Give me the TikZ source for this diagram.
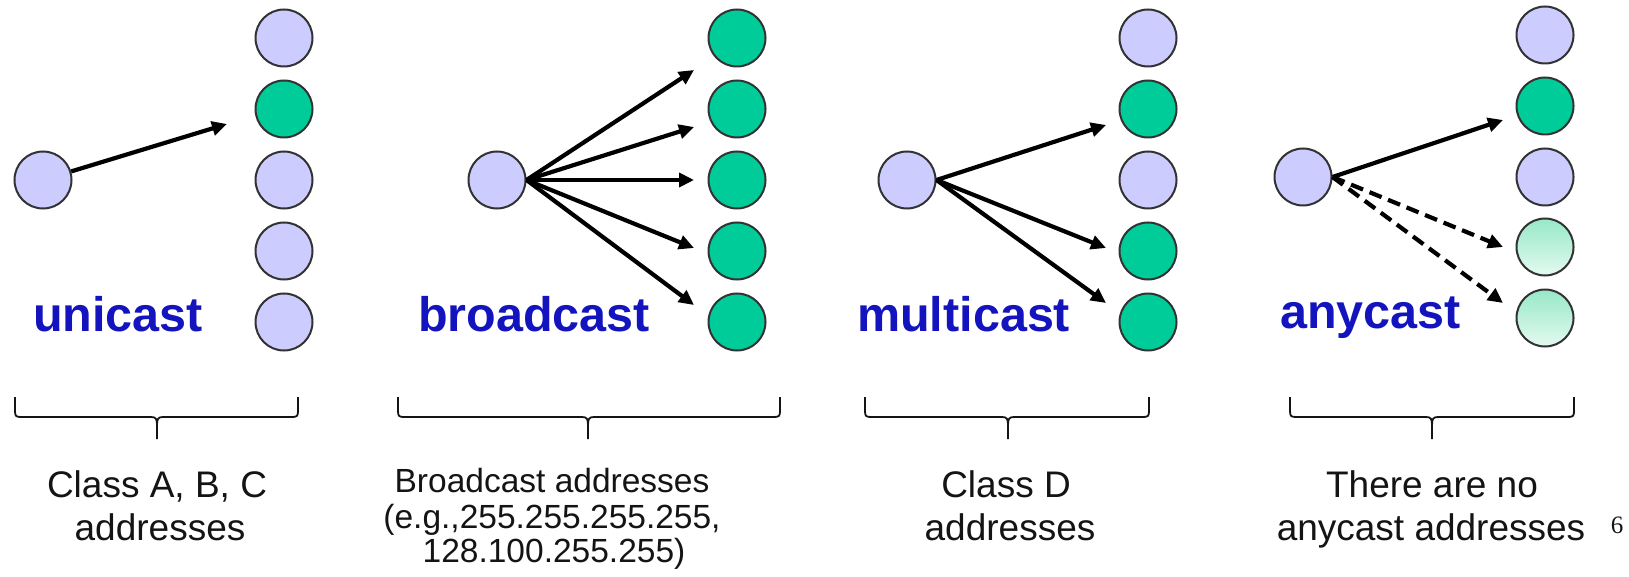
\documentclass[tikz,border=0pt]{standalone}
\usepackage{fontspec}
\setmainfont{Liberation Sans}
\newfontfamily\serifnum{Liberation Serif}
\usetikzlibrary{arrows.meta}
\definecolor{lav}{RGB}{204,204,255}
\definecolor{grn}{RGB}{0,204,153}
\definecolor{lgtop}{RGB}{150,232,200}
\definecolor{lgbot}{RGB}{228,250,240}
\definecolor{ttlblue}{RGB}{20,20,190}
\definecolor{edge}{RGB}{50,50,50}
\definecolor{txt}{RGB}{20,20,20}
\tikzset{
  host/.style={circle, draw=edge, line width=2pt, minimum size=57pt, inner sep=0pt},
  idle/.style={host, fill=lav},
  hit/.style={host, fill=grn},
  maybe/.style={host, top color=lgtop, bottom color=lgbot},
  send/.style={line width=4.2pt, -{Triangle[length=15pt,width=14pt]}},
  maysend/.style={send, dash pattern=on 13pt off 7pt},
  ttl/.style={anchor=base west, text=ttlblue, font=\fontsize{48.5}{50}\selectfont\bfseries, inner sep=0pt},
  captxt/.style={anchor=base, text=txt, font=\fontsize{37}{40}\selectfont, inner sep=0pt},
  captxtsm/.style={anchor=base, text=txt, font=\fontsize{33.5}{36}\selectfont, inner sep=0pt},
  brc/.style={draw=txt, line width=1.8pt}
}
\begin{document}
\begin{tikzpicture}[x=1pt,y=-1pt]
\useasboundingbox (0,0) rectangle (1629,577);
% ---------- unicast ----------
\node[idle] (u0) at (43,180) {};
\node[idle] (u1) at (284,38) {};
\node[hit]  (u2) at (284,109) {};
\node[idle] (u3) at (284,180) {};
\node[idle] (u4) at (284,251) {};
\node[idle] (u5) at (284,322) {};
\coordinate (ut) at (227,124);
\draw[send] (u0) -- (ut);
\node[ttl] (ul) at (33,331) {unicast};
% ---------- broadcast ----------
\node[idle] (b0) at (497,180) {};
\node[hit] (b1) at (737,38) {};
\node[hit] (b2) at (737,109) {};
\node[hit] (b3) at (737,180) {};
\node[hit] (b4) at (737,251) {};
\node[hit] (b5) at (737,322) {};
\coordinate (bt1) at (694,70);
\coordinate (bt2) at (694,127);
\coordinate (bt3) at (694,180);
\coordinate (bt4) at (694,248);
\coordinate (bt5) at (694,305);
\foreach \i in {1,...,5} \draw[send] (b0.east) -- (bt\i);
\node[ttl] (bl) at (418,331) {broadcast};
% ---------- multicast ----------
\node[idle] (m0) at (907,180) {};
\node[idle] (m1) at (1148,38) {};
\node[hit]  (m2) at (1148,109) {};
\node[idle] (m3) at (1148,180) {};
\node[hit]  (m4) at (1148,251) {};
\node[hit]  (m5) at (1148,322) {};
\coordinate (mt1) at (1106,125);
\coordinate (mt2) at (1106,248);
\coordinate (mt3) at (1106,303);
\foreach \i in {1,2,3} \draw[send] (m0.east) -- (mt\i);
\node[ttl] (ml) at (857,331) {multicast};
% ---------- anycast ----------
\node[idle]  (a0) at (1303,177) {};
\node[idle]  (a1) at (1545,35) {};
\node[hit]   (a2) at (1545,106) {};
\node[idle]  (a3) at (1545,177) {};
\node[maybe] (a4) at (1545,247) {};
\node[maybe] (a5) at (1545,318) {};
\coordinate (at1) at (1503,120);
\coordinate (at2) at (1503,247);
\coordinate (at3) at (1503,303);
\draw[send] (a0.east) -- (at1);
\draw[maysend] (a0.east) -- (at2);
\draw[maysend] (a0.east) -- (at3);
\node[ttl] (al) at (1280,328) {anycast};
% ---------- braces ----------
\foreach \xa/\xm/\xb in {15/157/298, 398/588/780, 865/1008/1149, 1290/1432/1574}{
  \draw[brc] (\xa,397) -- (\xa,411) .. controls (\xa,416) and (\xa+1,417) .. (\xa+6,417)
    -- (\xm-6,417) .. controls (\xm-1,417) and (\xm,419) .. (\xm,425) -- (\xm,439);
  \draw[brc] (\xb,397) -- (\xb,411) .. controls (\xb,416) and (\xb-1,417) .. (\xb-6,417)
    -- (\xm+6,417) .. controls (\xm+1,417) and (\xm,419) .. (\xm,425);
}
% ---------- captions ----------
\node[captxt] (c1a) at (157,497) {Class A, B, C};
\node[captxt] (c1b) at (160,540) {addresses};
\node[captxtsm] (c2a) at (552,492) {Broadcast addresses};
\node[captxtsm] (c2b) at (552,528) {(e.g.,255.255.255.255,};
\node[captxtsm] (c2c) at (554,562) {128.100.255.255)};
\node[captxt] (c3a) at (1006,497) {Class D};
\node[captxt] (c3b) at (1010,540) {addresses};
\node[captxt] (c4a) at (1432,497) {There are no};
\node[captxt] (c4b) at (1431,540) {anycast addresses};
\node[anchor=base, text=txt, font=\serifnum\fontsize{25}{26}\selectfont, inner sep=0pt] (pg) at (1617,533) {6};
\end{tikzpicture}
\end{document}
